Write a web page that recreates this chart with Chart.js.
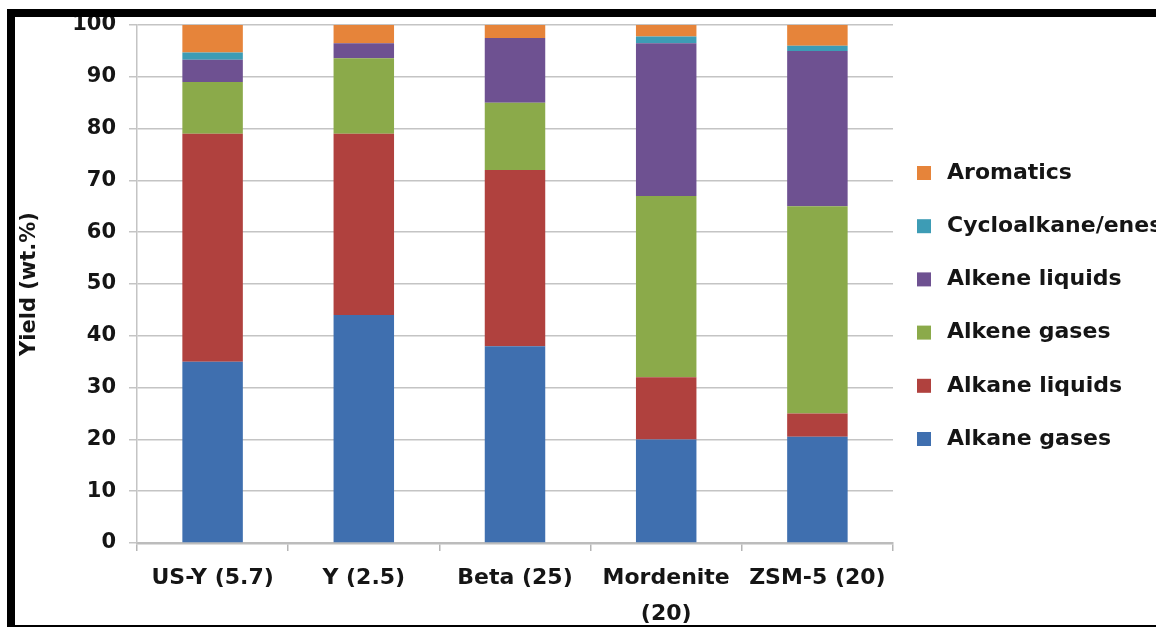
<!DOCTYPE html>
<html>
<head>
<meta charset="utf-8">
<script src="https://cdn.jsdelivr.net/npm/chart.js@4.4.0/dist/chart.umd.min.js"></script>
<style>
  html, body { margin: 0; padding: 0; background: #fff; width: 1156px; height: 628px; overflow: hidden; }
  #frame {
    position: absolute; left: 7px; top: 9px;
    width: 1149px; height: 608px;
    border-top: 8px solid #000; border-left: 8px solid #000; border-bottom: 2px solid #000;
    overflow: hidden;
  }
  #wrap { position: absolute; left: 0; top: 0; width: 1141px; height: 608px; }
</style>
</head>
<body>
<div id="frame"><div id="wrap"><canvas id="c"></canvas></div></div>
<script>
const categories = [['US-Y (5.7)'], ['Y (2.5)'], ['Beta (25)'], ['Mordenite', '(20)'], ['ZSM-5 (20)']];
const seriesNames = ['Alkane gases', 'Alkane liquids', 'Alkene gases', 'Alkene liquids', 'Cycloalkane/enes', 'Aromatics'];
const alkaneGases    = [35, 44, 38, 20, 20.5];
const alkaneLiquids  = [44, 35, 34, 12, 4.5];
const alkeneGases    = [10, 14.6, 13, 35, 40];
const alkeneLiquids  = [4.3, 2.9, 12.5, 29.5, 30];
const cycloalkanes   = [1.4, 0, 0, 1.3, 1];
const aromatics      = [5.3, 3.5, 2.5, 2.2, 4];
const yTicks = [0, 10, 20, 30, 40, 50, 60, 70, 80, 90, 100];

const colors = ['#3F6FAF', '#B0413E', '#8BAA4A', '#6E5191', '#3D9CB5', '#E6843A'];
const seriesValues = [alkaneGases, alkaneLiquids, alkeneGases, alkeneLiquids, cycloalkanes, aromatics];

const FONT = '"DejaVu Sans", "Open Sans", sans-serif';
const TXT = '#151515';

const legendPlugin = {
  id: 'sideLegend',
  afterDraw(chart) {
    const ctx = chart.ctx;
    const ds = chart.data.datasets;
    ctx.save();
    ctx.font = 'bold 22px ' + FONT;
    ctx.textBaseline = 'middle';
    ctx.textAlign = 'left';
    const x0 = 902, y0 = 156, step = 53.2, box = 14;
    for (let k = 0; k < ds.length; k++) {
      const d = ds[ds.length - 1 - k];
      const y = y0 + k * step;
      ctx.fillStyle = d.backgroundColor;
      ctx.fillRect(x0, y - box / 2, box, box);
      ctx.fillStyle = TXT;
      ctx.fillText(d.label, x0 + 30, y);
    }
    ctx.restore();
  }
};

new Chart(document.getElementById('c'), {
  type: 'bar',
  data: {
    labels: categories,
    datasets: seriesNames.map((n, i) => ({
      label: n,
      data: seriesValues[i],
      backgroundColor: colors[i],
      borderWidth: 0,
      barPercentage: 0.4,
      categoryPercentage: 1.0
    }))
  },
  options: {
    responsive: true,
    maintainAspectRatio: false,
    animation: false,
    devicePixelRatio: 1,
    layout: { padding: { top: 8, right: 263, bottom: 0, left: 0 } },
    plugins: {
      legend: { display: false },
      tooltip: { enabled: false },
      title: { display: false }
    },
    scales: {
      x: {
        stacked: true,
        grid: { drawOnChartArea: false, drawTicks: true, tickLength: 8, color: '#b5b5b5', lineWidth: 1.5, offset: true },
        border: { display: true, color: '#bcbcbc', width: 2.5 },
        ticks: {
          color: TXT, padding: 10, maxRotation: 0, autoSkip: false,
          font: { family: FONT, size: 22, weight: 'bold', lineHeight: 1.6 }
        },
        afterFit(s) { s.height = 82; s.paddingLeft = 0; s.paddingRight = 0; }
      },
      y: {
        stacked: true,
        min: 0, max: 100,
        afterBuildTicks(s) { s.ticks = yTicks.map(v => ({ value: v })); },
        grid: { color: '#c4c4c4', lineWidth: 1.5, tickLength: 8 },
        border: { display: true, color: '#c4c4c4', width: 1.5 },
        ticks: {
          color: TXT, padding: 13,
          font: { family: FONT, size: 21, weight: 'bold' }
        },
        title: {
          display: true, text: 'Yield (wt.%)', color: TXT,
          font: { family: FONT, size: 21, weight: 'bold' },
          padding: { top: 2, bottom: 0 }
        },
        afterFit(s) { s.width = 122; s.paddingTop = 0; s.paddingBottom = 0; }
      }
    }
  },
  plugins: [legendPlugin]
});
</script>
</body>
</html>
